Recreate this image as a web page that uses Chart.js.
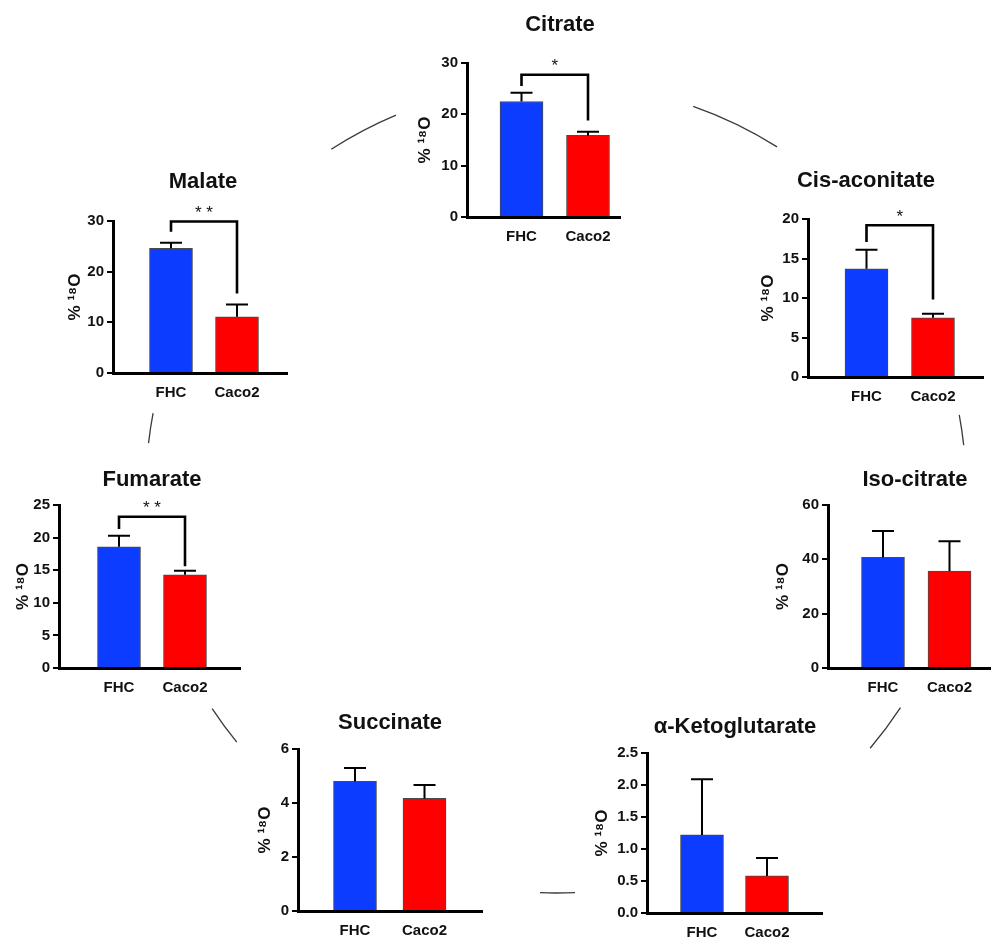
<!DOCTYPE html>
<html>
<head>
<meta charset="utf-8">
<script src="https://cdn.jsdelivr.net/npm/chart.js@4"></script>
<style>
  body { margin: 0; background: #fff; }
  #figure { position: relative; width: 992px; height: 940px; overflow: hidden; }
  #figure canvas { position: absolute; }
</style>
</head>
<body>
<div id="figure">
  <canvas id="arcs" width="992" height="940" style="left:0;top:0"></canvas>
</div>
<script>
// panels in cycle order, starting at the top
const metabolites = ["Citrate", "Cis-aconitate", "Iso-citrate", "α-Ketoglutarate", "Succinate", "Fumarate", "Malate"];
const groups = ["FHC", "Caco2"];
const fhcMean = [22.5, 13.7, 40.7, 1.22, 4.8, 18.6, 24.6];
const fhcErr = [1.7, 2.4, 9.7, 0.87, 0.5, 1.7, 1.1];
const caco2Mean = [15.9, 7.5, 35.7, 0.58, 4.17, 14.3, 11.1];
const caco2Err = [0.7, 0.5, 11.0, 0.28, 0.5, 0.6, 2.4];
const yMax = [30, 20, 60, 2.5, 6, 25, 30];
const yStep = [10, 5, 20, 0.5, 2, 5, 10];
const yDecimals = [0, 0, 0, 1, 0, 0, 0];
// significance brackets (values in % 18O), null where there is none
const sigLabel = ["*", "*", null, null, null, "**", "**"];
const sigTop = [27.7, 19.2, null, null, null, 23.2, 29.9];
const sigLeftEnd = [25.5, 17.1, null, null, null, 21.3, 27.9];
const sigRightEnd = [18.8, 9.8, null, null, null, 15.6, 15.7];

// where each small plot sits on the page
const panels = [
  { axis: 467, end: 620, top: 63, zero: 217, first: 521.5, gap: 66.5, tx: 560, ty: 25, lx: 425 },
  { axis: 808, end: 983, top: 219, zero: 377, first: 866.5, gap: 66.5, tx: 866, ty: 181, lx: 768 },
  { axis: 828, end: 990, top: 505, zero: 668, first: 883, gap: 66.5, tx: 915, ty: 480, lx: 783 },
  { axis: 647, end: 822, top: 753, zero: 913, first: 702, gap: 65, tx: 735, ty: 727, lx: 602 },
  { axis: 298, end: 482, top: 749, zero: 911, first: 355, gap: 69.5, tx: 390, ty: 723, lx: 265 },
  { axis: 59, end: 240, top: 505, zero: 668, first: 119, gap: 66, tx: 152, ty: 480, lx: 23 },
  { axis: 113, end: 287, top: 221, zero: 373, first: 171, gap: 66, tx: 203, ty: 182, lx: 75 }
];

const FONT = '"Liberation Sans", Arial, Helvetica, sans-serif';
const BLUE = '#0b3cff';
const RED = '#ff0000';
const INK = '#111';

// connecting arcs of the cycle
const ring = { cx: 556, cy: 488, rx: 410, ry: 405 };
const links = [
  [331, 149, 396, 115], [693, 107, 777, 147], [958, 415, 965, 445],
  [901, 708, 871, 749], [575, 893, 540, 893], [237, 742, 210, 710], [147, 443, 153, 413]
];
const actx = document.getElementById('arcs').getContext('2d');
actx.strokeStyle = '#3a3a3a';
actx.lineWidth = 1.3;
links.forEach(([x1, y1, x2, y2]) => {
  const a1 = Math.atan2((y1 - ring.cy) / ring.ry, (x1 - ring.cx) / ring.rx);
  const a2 = Math.atan2((y2 - ring.cy) / ring.ry, (x2 - ring.cx) / ring.rx);
  let d = a2 - a1;
  while (d > Math.PI) d -= 2 * Math.PI;
  while (d < -Math.PI) d += 2 * Math.PI;
  actx.beginPath();
  actx.ellipse(ring.cx, ring.cy, ring.rx, ring.ry, 0, a1, a1 + d, d < 0);
  actx.stroke();
});

// title drawn at a fixed spot above each plot
const panelTitle = {
  id: 'panelTitle',
  afterDraw(chart, args, opts) {
    const ctx = chart.ctx;
    ctx.save();
    ctx.font = 'bold 22px ' + FONT;
    ctx.fillStyle = INK;
    ctx.textAlign = 'center';
    ctx.textBaseline = 'middle';
    ctx.fillText(opts.text, opts.x, opts.y);
    ctx.restore();
  }
};

// upper error whiskers
const errorBars = {
  id: 'errorBars',
  afterDatasetsDraw(chart) {
    const ctx = chart.ctx;
    const y = chart.scales.y;
    const ds = chart.data.datasets[0];
    chart.getDatasetMeta(0).data.forEach((bar, k) => {
      const top = y.getPixelForValue(ds.data[k].y + ds.errors[k]);
      ctx.save();
      ctx.strokeStyle = '#000';
      ctx.lineWidth = 2;
      ctx.beginPath();
      ctx.moveTo(bar.x, bar.y);
      ctx.lineTo(bar.x, top);
      ctx.moveTo(bar.x - 11, top);
      ctx.lineTo(bar.x + 11, top);
      ctx.stroke();
      ctx.restore();
    });
  }
};

// significance bracket with stars
const bracket = {
  id: 'bracket',
  afterDatasetsDraw(chart, args, opts) {
    if (!opts.label) return;
    const ctx = chart.ctx;
    const y = chart.scales.y;
    const bars = chart.getDatasetMeta(0).data;
    const xl = bars[0].x, xr = bars[1].x;
    const yt = y.getPixelForValue(opts.top);
    ctx.save();
    ctx.strokeStyle = '#000';
    ctx.lineWidth = 2.6;
    ctx.beginPath();
    ctx.moveTo(xl, y.getPixelForValue(opts.left));
    ctx.lineTo(xl, yt);
    ctx.lineTo(xr, yt);
    ctx.lineTo(xr, y.getPixelForValue(opts.right));
    ctx.stroke();
    ctx.font = '17px ' + FONT;
    ctx.fillStyle = INK;
    ctx.textAlign = 'center';
    ctx.textBaseline = 'middle';
    ctx.fillText(opts.label.split('').join(' '), (xl + xr) / 2, yt - 8);
    ctx.restore();
  }
};

const figure = document.getElementById('figure');

panels.forEach((p, i) => {
  const left = Math.round(p.lx - 10);
  const top = Math.round(p.ty - 16);
  const width = p.end + 4 - left;
  const height = p.zero + 40 - top;
  const canvas = document.createElement('canvas');
  canvas.width = width;
  canvas.height = height;
  canvas.style.left = left + 'px';
  canvas.style.top = top + 'px';
  figure.appendChild(canvas);

  const p1 = (p.first - p.axis) / p.gap;

  new Chart(canvas, {
    type: 'bar',
    data: {
      datasets: [{
        data: [{ x: p1, y: fhcMean[i] }, { x: p1 + 1, y: caco2Mean[i] }],
        errors: [fhcErr[i], caco2Err[i]],
        backgroundColor: [BLUE, RED],
        borderColor: '#4a4a4a',
        borderWidth: 1,
        barThickness: 43
      }]
    },
    options: {
      responsive: false,
      animation: false,
      layout: { padding: { left: 0, right: 4, top: p.top - top, bottom: 0 } },
      plugins: {
        legend: { display: false },
        tooltip: { enabled: false },
        panelTitle: { text: metabolites[i], x: p.tx - left, y: p.ty - top },
        bracket: { label: sigLabel[i], top: sigTop[i], left: sigLeftEnd[i], right: sigRightEnd[i] }
      },
      scales: {
        x: {
          type: 'linear',
          offset: false,
          min: 0,
          max: (p.end - p.axis) / p.gap,
          grid: { display: false, drawTicks: false },
          border: { display: true, width: 3, color: '#000' },
          afterBuildTicks: s => { s.ticks = [{ value: p1 }, { value: p1 + 1 }]; },
          afterFit: s => { s.height = 40; },
          ticks: {
            callback: (v, idx) => groups[idx],
            autoSkip: false,
            maxRotation: 0,
            padding: 11,
            color: INK,
            font: { family: FONT, size: 15, weight: 'bold' }
          }
        },
        y: {
          min: 0,
          max: yMax[i],
          afterFit: s => { s.width = p.axis - left; },
          grid: { drawOnChartArea: false, drawTicks: true, tickLength: 6, lineWidth: 2, color: '#000' },
          border: { width: 3, color: '#000' },
          ticks: {
            stepSize: yStep[i],
            callback: v => v.toFixed(yDecimals[i]),
            padding: 3,
            color: INK,
            font: { family: FONT, size: 15, weight: 'bold' }
          },
          title: {
            display: true,
            text: '% ¹⁸O',
            padding: 0,
            color: INK,
            font: { family: FONT, size: 17, weight: 'bold' }
          }
        }
      }
    },
    plugins: [errorBars, bracket, panelTitle]
  });
});
</script>
</body>
</html>
